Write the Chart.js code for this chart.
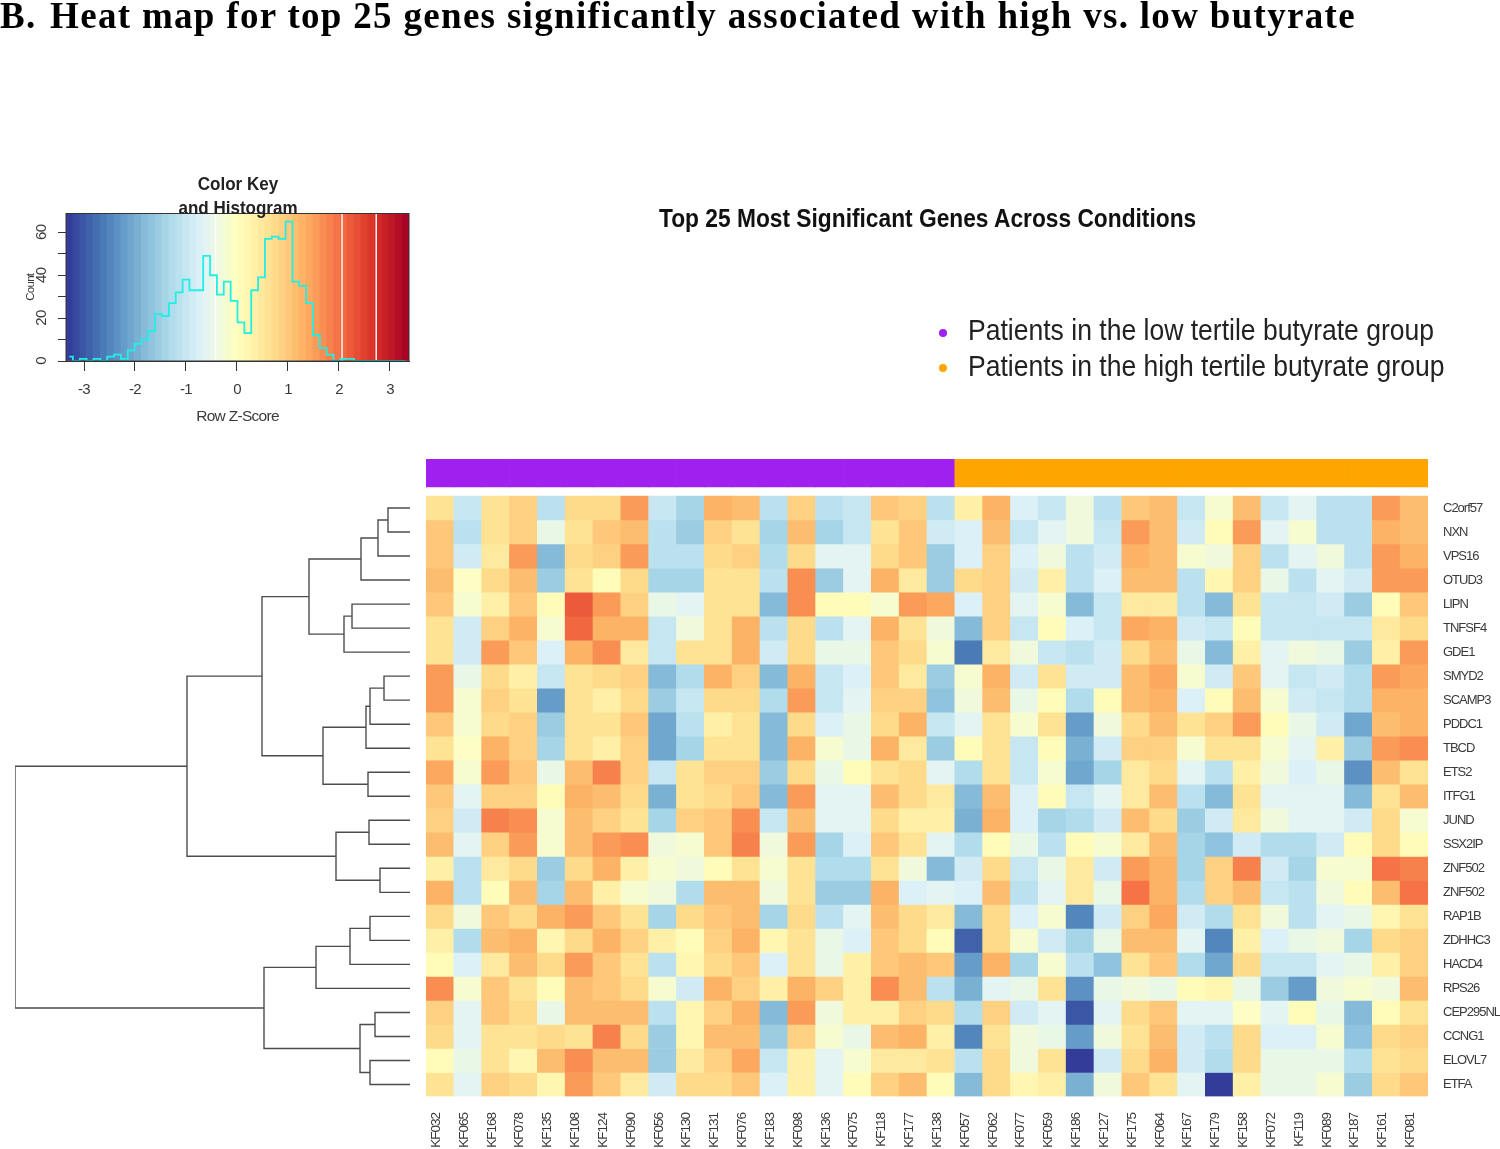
<!DOCTYPE html>
<html>
<head>
<meta charset="utf-8">
<title>Heat map for top 25 genes</title>
<script src="https://cdn.jsdelivr.net/npm/chart.js@4"></script>
<style>
  html, body { margin: 0; padding: 0; background: #fff; overflow: hidden; }
  body { width: 1500px; height: 1149px; position: relative; }
  canvas { position: absolute; filter: blur(0.45px); }
  .txt { position: absolute; white-space: pre; color: #111; filter: blur(0.35px); }
  #headline { left: 0; top: -6px; font: bold 37px "Liberation Serif", serif; letter-spacing: 1.31px; color: #000; }
  #heatTitle { left: 659px; top: 204px; font: bold 25px "Liberation Sans", sans-serif; transform: scaleX(0.91); transform-origin: left; }
  #keyTitle { left: 138px; width: 200px; top: 172px; text-align: center; font: bold 18.5px/24px "Liberation Sans", sans-serif; color: #222; transform: scaleX(0.92); }
  .legendText { left: 968px; font: 29px "Liberation Sans", sans-serif; color: #222; transform: scaleX(0.915); transform-origin: left; }
  .dot { position: absolute; left: 939px; width: 8px; height: 8px; border-radius: 50%; filter: blur(0.5px); }
</style>
</head>
<body>
<div class="txt" id="headline"><span style="word-spacing:3px">B. </span>Heat map for top 25 genes significantly associated with high vs. low butyrate</div>
<div class="txt" id="heatTitle">Top 25 Most Significant Genes Across Conditions</div>
<canvas id="keyChart" width="430" height="265" style="left:0;top:170px"></canvas>
<div class="txt" id="keyTitle">Color Key
and Histogram</div>
<div class="dot" style="top:329px;background:#a020f0"></div>
<div class="txt legendText" style="top:314px">Patients in the low tertile butyrate group</div>
<div class="dot" style="top:364px;background:#ffa500"></div>
<div class="txt legendText" style="top:350px">Patients in the high tertile butyrate group</div>
<canvas id="dendroChart" width="425" height="601" style="left:0;top:496px"></canvas>
<canvas id="heatChart" width="1084" height="699" style="left:416px;top:450px"></canvas>

<script>
const geneNames = ["C2orf57", "NXN", "VPS16", "OTUD3", "LIPN", "TNFSF4", "GDE1", "SMYD2", "SCAMP3", "PDDC1", "TBCD", "ETS2", "ITFG1", "JUND", "SSX2IP", "ZNF502", "ZNF502", "RAP1B", "ZDHHC3", "HACD4", "RPS26", "CEP295NL", "CCNG1", "ELOVL7", "ETFA"];
const sampleNames = ["KF032", "KF065", "KF168", "KF078", "KF135", "KF108", "KF124", "KF090", "KF056", "KF130", "KF131", "KF076", "KF183", "KF098", "KF136", "KF075", "KF118", "KF177", "KF138", "KF057", "KF062", "KF077", "KF059", "KF186", "KF127", "KF175", "KF064", "KF167", "KF179", "KF158", "KF072", "KF119", "KF089", "KF187", "KF161", "KF081"];
const lowGroupSize = 19;

// row z-scores, one line per gene
const zScores = [
  [0.55,-1.05,0.65,0.95,-1.15,0.75,0.75,1.5,-1.0,-1.4,1.35,1.15, -1.15,0.95,-1.15,-1.0,1.05,0.9,-1.15,0.3,1.3,-0.7,-0.95,-0.3, -1.15,1.0,1.1,-1.05,-0.25,1.2,-1.0,-0.55,-1.1,-1.1,1.5,1.15],
  [1.05,-1.2,0.65,0.95,-0.45,0.65,1.05,1.2,-1.15,-1.55,0.95,0.6, -1.4,1.2,-1.4,-1.0,0.65,1.0,-0.85,-0.7,1.2,-0.95,-0.55,-0.3, -1.0,1.55,1.1,-0.9,0.05,1.55,-0.6,-0.2,-1.2,-1.2,1.35,1.1],
  [1.05,-0.85,0.5,1.55,-1.85,0.75,0.95,1.55,-1.15,-1.15,0.75,0.95, -1.25,0.75,-0.55,-0.55,0.7,1.05,-1.55,-0.7,0.95,-0.7,-0.3,-1.15, -0.9,1.35,1.1,-0.15,-0.3,0.95,-1.15,-0.6,-0.3,-1.15,1.55,1.3],
  [1.2,-0.05,0.75,1.1,-1.6,0.6,0.05,0.75,-1.4,-1.4,0.65,0.65, -1.15,1.7,-1.55,-0.55,1.35,0.5,-1.55,0.75,0.95,-0.85,0.3,-1.1, -0.75,1.1,1.1,-1.15,0.15,0.95,-0.45,-1.15,-0.6,-0.85,1.55,1.5],
  [1.05,-0.2,0.4,1.0,0.1,2.2,1.55,0.95,-0.4,-0.6,0.65,0.65, -1.75,1.7,0.05,0.05,-0.25,1.55,1.4,-0.7,0.95,-0.55,-0.2,-1.75, -1.0,0.5,0.5,-1.15,-1.85,0.55,-1.0,-1.0,-0.8,-1.55,0.1,1.0],
  [0.65,-0.8,0.95,1.3,-0.2,2.05,1.35,1.35,-1.0,-0.35,0.65,1.35, -1.15,0.8,-1.15,-0.6,1.25,0.65,-0.3,-1.85,0.95,-1.0,0.05,-0.75, -1.0,1.4,1.35,-0.9,-1.0,0.05,-1.0,-0.95,-0.95,-1.05,0.45,0.75],
  [0.65,-0.9,1.5,1.05,-0.75,1.3,1.65,0.5,-1.0,0.55,0.65,1.35, -0.85,0.75,-0.4,-0.4,1.05,0.75,-0.15,-2.6,0.5,-0.3,-0.95,-1.15, -0.9,0.7,1.2,-0.4,-1.85,0.3,-0.6,-0.35,-0.4,-1.55,0.4,1.5],
  [1.5,-0.45,0.7,0.4,-1.0,0.55,0.7,0.95,-1.75,-1.3,1.25,0.9, -1.75,1.25,-1.05,-0.75,1.05,0.45,-1.55,-0.15,1.35,-0.85,0.55,-0.9, -0.8,1.2,1.4,-0.2,-0.8,1.0,-0.6,-1.05,-0.8,-1.3,1.55,1.45],
  [1.5,-0.2,0.95,0.55,-2.25,0.55,0.4,0.75,-1.55,-1.0,0.75,0.75, -1.3,1.5,-1.0,-0.6,0.9,0.9,-1.7,-0.3,1.15,-0.45,0.05,-1.3, 0.05,1.15,1.3,-0.7,0.05,1.1,-0.2,-0.8,-1.05,-1.3,1.3,1.3],
  [1.05,-0.2,0.75,0.9,-1.55,0.55,0.6,1.05,-2.05,-1.2,0.35,0.55, -1.75,0.75,-0.75,-0.45,0.7,1.3,-1.0,-0.6,0.65,-0.15,0.6,-2.2, -0.3,0.8,1.15,0.65,0.95,1.6,0.05,-0.4,-0.9,-2.05,1.1,1.3],
  [0.55,-0.05,1.3,0.95,-1.4,0.65,0.35,0.95,-2.05,-1.4,0.6,0.6, -1.75,1.3,-0.15,-0.4,1.25,0.5,-1.55,0.05,0.65,-1.0,0.05,-1.9, -0.85,0.95,0.95,-0.15,0.6,0.6,-0.15,-0.6,0.35,-1.55,1.55,1.75],
  [1.4,-0.2,1.5,1.0,-0.45,1.15,1.85,0.9,-1.0,0.55,0.9,0.9, -1.55,0.7,-0.4,0.05,0.6,0.7,-0.6,-1.25,0.65,-1.0,-0.2,-2.05, -1.4,0.45,0.8,-0.65,-1.15,0.35,-0.35,-0.75,-0.45,-2.35,1.1,0.65],
  [1.05,-0.55,0.95,0.95,0.05,1.3,1.15,0.8,-1.9,0.55,0.7,1.0, -1.75,1.5,-0.6,-0.6,1.1,0.8,0.5,-1.85,1.1,-0.7,0.1,-1.0, -0.55,0.45,1.15,-1.2,-1.75,0.65,-0.6,-0.6,-0.6,-1.75,0.6,1.1],
  [0.95,-0.9,1.8,1.65,-0.2,1.15,0.95,0.55,-1.4,0.85,1.0,1.65, -1.0,1.2,-0.6,-0.6,0.75,0.4,0.4,-2.0,1.35,-0.7,-1.35,-1.25, -0.85,1.1,0.8,-1.55,-0.85,0.45,-0.3,-0.6,-0.6,-0.85,0.75,-0.15],
  [1.2,-0.55,0.95,1.5,-0.2,1.2,1.5,1.65,-0.3,-0.2,1.05,1.85, -0.35,1.6,-1.35,-0.75,1.05,0.65,-0.6,-1.25,0.05,-0.4,-1.2,0.05, -0.15,0.5,1.1,-1.4,-1.7,-0.85,-1.25,-1.25,-0.85,0.05,0.7,0.1],
  [0.35,-1.15,0.45,0.7,-1.55,0.8,1.3,0.4,-0.2,-0.3,0.05,0.65, -0.2,0.65,-1.25,-1.25,0.6,-0.3,-1.85,-0.9,0.8,-1.0,-0.4,0.45, -0.85,1.55,1.35,-1.4,0.85,1.8,-0.85,-1.35,-0.15,-0.15,1.95,1.85],
  [1.25,-1.15,0.05,1.1,-1.4,1.15,0.35,-0.2,-0.3,-1.3,1.1,1.2, -0.35,0.65,-1.5,-1.55,1.3,-0.7,-0.6,-0.75,1.1,-1.2,-0.6,0.45, -0.4,1.95,1.3,-1.3,0.85,1.2,-1.0,-1.15,-0.3,0.05,1.15,1.95],
  [0.8,-0.35,1.0,0.8,1.3,1.5,1.05,0.55,-1.35,0.75,1.05,1.2, -1.4,0.8,-1.15,-0.6,1.15,0.8,0.5,-1.85,0.75,-0.75,-0.25,-2.45, -0.85,0.85,1.4,-0.9,-1.25,0.55,-0.35,-1.15,-0.65,-0.4,0.15,0.65],
  [0.3,-1.3,1.1,1.3,0.15,0.75,1.3,0.95,0.35,0.05,0.95,1.3, 0.15,0.65,-0.4,-0.7,1.0,0.75,0.05,-2.85,0.75,-0.2,-0.85,-1.45, -0.4,1.1,1.1,-0.55,-2.45,0.3,-0.75,-0.4,-0.3,-1.4,0.7,0.95],
  [0.05,-0.7,0.5,1.2,0.75,1.6,1.05,0.6,-1.2,0.25,0.7,1.05, -0.7,0.65,-0.45,0.4,1.0,1.2,1.0,-2.2,1.35,-1.35,-0.15,-1.15, -1.7,0.65,1.0,-1.25,-2.1,0.8,-1.0,-1.0,-0.55,-0.4,0.3,0.95],
  [1.7,-0.2,1.05,0.55,0.05,1.2,1.05,0.7,-0.2,-0.85,1.3,0.9, 0.4,1.25,0.85,0.3,1.7,1.1,-1.15,-2.0,-0.6,-0.45,0.6,-2.4, -0.4,-0.3,-0.4,0.1,0.15,-0.4,-1.55,-2.2,-0.3,-0.2,-0.35,1.1],
  [0.95,-0.55,1.05,0.75,-0.4,1.2,1.2,1.1,-1.2,0.15,0.95,1.35, -1.8,1.6,-0.35,0.4,0.4,0.95,0.7,-1.25,0.85,-0.85,-0.55,-3.0, -0.55,0.8,1.0,-0.55,-0.55,0.0,-0.6,0.1,-0.45,-1.85,0.1,0.55],
  [0.7,-0.55,0.65,0.55,0.75,0.65,1.8,0.7,-1.55,0.15,1.1,1.1, -1.6,0.85,-0.2,-0.4,1.2,1.35,0.4,-2.45,0.6,-0.35,-0.45,-2.15, -0.35,0.55,1.2,-0.85,-1.15,0.7,-0.75,-0.75,-0.2,-1.65,0.8,0.95],
  [0.05,-0.4,0.65,0.2,1.2,1.7,1.1,1.1,-1.55,0.5,0.9,1.4, -1.0,0.4,-0.6,-0.25,0.5,0.5,0.6,-1.1,0.7,-0.35,0.65,-3.35, -0.8,0.8,1.25,-0.8,-1.3,0.7,-0.4,-0.4,-0.4,-1.25,0.6,0.75],
  [0.6,-0.55,0.95,0.75,0.15,1.6,1.05,0.5,-0.85,0.75,0.75,1.05, -0.7,0.3,-0.55,0.1,0.85,1.1,0.05,-1.85,0.8,0.2,0.35,-1.9, -0.3,1.05,0.65,-0.55,-3.35,0.4,-0.4,-0.4,-0.25,-1.6,0.75,1.05],
];

// histogram counts of the colour key, one per colour band
const histCounts = [2,0,1,0,1,0,2,3,1,5, 8,10,14,22,21,27,32,38,33,33, 49,40,31,37,28,18,13,33,39,57, 58,57,65,37,35,27,12,6,3,0, 1,1,0,0,0,0,0,0,0,0];
const keyBreaks = [-0.42, 2.06, 2.73];
const keyTicksX = [-3, -2, -1, 0, 1, 2, 3];
const keyTicksY = [0, 10, 20, 30, 40, 50, 60];
const keyMin = -3.353;
const keyMax = 3.373;
const keyTop = 68.8;

// row dendrogram, hclust style: negative = leaf, positive = earlier merge
const mergeLeft = [-1, 1, 2, -5, 4, 3, -8, 7, 8, -12, 9, 6, -14, -16, 13, 12, -18, 17, 18, -22, -24, 20, 19, 16];
const mergeRight = [-2, -3, -4, -6, -7, 5, -9, -10, -11, -13, 10, 11, -15, -17, 14, 15, -19, -20, -21, -23, -25, 21, 22, 23];
const mergeHeight = [2.2, 3.2, 4.9, 5.8, 6.6, 10.1, 2.6, 4.0, 4.4, 4.2, 8.7, 14.8, 4.1, 3.0, 7.4, 22.3, 4.0, 6.0, 9.4, 3.5, 4.0, 5.0, 14.6, 39.5];

const palette = ["#313695", "#4575b4", "#74add1", "#abd9e9", "#e0f3f8", "#ffffbf", "#fee090", "#fdae61", "#f46d43", "#d73027", "#a50026"];
const bandCount = histCounts.length;
const sansFont = "'Liberation Sans', sans-serif";
const labelColor = "#3a3a3a";

const hexToRgb = (hex) => [1, 3, 5].map((i) => parseInt(hex.slice(i, i + 2), 16));

// maps a z-score to the colour of its band in the key
const zColor = (z) => {
  const band = Math.min(bandCount - 1, Math.max(0, Math.floor(((z - keyMin) / (keyMax - keyMin)) * bandCount)));
  const pos = ((band + 0.5) / bandCount) * (palette.length - 1);
  const low = Math.floor(pos);
  const high = Math.min(palette.length - 1, low + 1);
  const a = hexToRgb(palette[low]);
  const b = hexToRgb(palette[high]);
  const mix = a.map((v, i) => Math.round(v + (b[i] - v) * (pos - low)));
  return `rgb(${mix[0]}, ${mix[1]}, ${mix[2]})`;
};

const bandCenter = (i) => keyMin + ((i + 0.5) * (keyMax - keyMin)) / bandCount;

// tighter tick text, the original labels are condensed
const tightText = (spacing) => ({
  id: "tightText",
  beforeUpdate(chart) { chart.ctx.letterSpacing = spacing; },
  beforeDraw(chart) { chart.ctx.letterSpacing = spacing; },
});

// keeps the plot area exactly where the layout padding puts it
const fixScale = (size) => (scale) => {
  if (scale.isHorizontal()) {
    scale.height = size;
  } else {
    scale.width = size;
  }
  scale.paddingTop = 0;
  scale.paddingBottom = 0;
  scale.paddingLeft = 0;
  scale.paddingRight = 0;
};

// Color key with histogram
const keyFrame = {
  id: "keyFrame",
  afterDatasetsDraw(chart) {
    const { ctx, chartArea } = chart;
    ctx.save();
    ctx.strokeStyle = "#333";
    ctx.lineWidth = 1;
    ctx.strokeRect(chartArea.left, chartArea.top, chartArea.width, chartArea.height);
    ctx.restore();
  },
};

const keyBreakPoints = [];
keyBreaks.forEach((x) => {
  keyBreakPoints.push({ x, y: 0 }, { x, y: keyTop }, { x: null, y: null });
});

new Chart(document.getElementById("keyChart"), {
  data: {
    datasets: [
      {
        type: "line",
        label: "Count",
        data: histCounts.map((y, i) => ({ x: bandCenter(i), y })),
        stepped: "middle",
        borderColor: "#22eee6",
        borderWidth: 1.8,
        pointRadius: 0,
        order: 0,
      },
      {
        type: "line",
        label: "gaps",
        data: keyBreakPoints,
        borderColor: "#fff",
        borderWidth: 1.4,
        pointRadius: 0,
        spanGaps: false,
        order: 1,
      },
      {
        type: "bar",
        label: "key",
        data: histCounts.map((_, i) => ({ x: bandCenter(i), y: keyTop })),
        backgroundColor: histCounts.map((_, i) => zColor(bandCenter(i))),
        barPercentage: 1,
        categoryPercentage: 1,
        order: 2,
      },
    ],
  },
  options: {
    responsive: false,
    animation: false,
    layout: { autoPadding: false, padding: { left: 24, right: 21, top: 43.5, bottom: 9 } },
    plugins: { legend: { display: false }, tooltip: { enabled: false } },
    scales: {
      x: {
        type: "linear",
        offset: false,
        min: keyMin,
        max: keyMax,
        afterBuildTicks: (scale) => { scale.ticks = keyTicksX.map((value) => ({ value })); },
        afterFit: fixScale(65),
        ticks: { color: labelColor, padding: 10, font: { family: sansFont, size: 15 } },
        grid: { offset: false, drawOnChartArea: false, tickLength: 10, color: "#333" },
        border: { color: "#333" },
        title: { display: true, text: "Row Z-Score", color: labelColor, padding: 0, font: { family: sansFont, size: 15.5 } },
      },
      y: {
        min: 0,
        max: keyTop,
        afterBuildTicks: (scale) => { scale.ticks = keyTicksY.map((value) => ({ value })); },
        afterFit: fixScale(42),
        ticks: {
          autoSkip: false,
          minRotation: 90,
          maxRotation: 90,
          crossAlign: "center",
          color: labelColor,
          padding: 8,
          font: { family: sansFont, size: 15 },
          callback: (v) => (v % 20 === 0 ? v : ""),
        },
        grid: { drawOnChartArea: false, tickLength: 8, color: "#333" },
        border: { color: "#333" },
        title: { display: true, text: "Count", color: labelColor, padding: 0, font: { family: sansFont, size: 11.5 } },
      },
    },
  },
  plugins: [keyFrame, tightText("-0.7px")],
});

// Builds dendrogram segments from the merge table
const buildDendrogram = () => {
  const points = [];
  const nodes = [];
  const place = (id) => (id < 0 ? { h: 0, y: -id - 0.5 } : nodes[id - 1]);
  mergeHeight.forEach((h, i) => {
    const a = place(mergeLeft[i]);
    const b = place(mergeRight[i]);
    points.push({ x: a.h, y: a.y }, { x: h, y: a.y }, { x: h, y: b.y }, { x: b.h, y: b.y }, { x: null, y: null });
    nodes.push({ h, y: (a.y + b.y) / 2 });
  });
  return points;
};

new Chart(document.getElementById("dendroChart"), {
  type: "scatter",
  data: {
    datasets: [
      {
        data: buildDendrogram(),
        showLine: true,
        spanGaps: false,
        borderColor: "rgba(45, 45, 45, 0.85)",
        borderWidth: 1.4,
        pointRadius: 0,
      },
    ],
  },
  options: {
    responsive: false,
    animation: false,
    layout: { autoPadding: false, padding: { left: 15, right: 15, top: 0, bottom: 0.5 } },
    plugins: { legend: { display: false }, tooltip: { enabled: false } },
    scales: {
      x: { display: false, reverse: true, min: 0, max: 39.5 },
      y: { display: false, reverse: true, min: 0, max: 25 },
    },
  },
});

// Heat map: one floating bar per cell, plus the group bar on top
const heatDatasets = geneNames.map((gene, row) => ({
  label: gene,
  data: sampleNames.map(() => [row, row + 1]),
  backgroundColor: zScores[row].map(zColor),
  barPercentage: 1,
  categoryPercentage: 1,
}));

heatDatasets.push({
  label: "group",
  data: sampleNames.map(() => [-1.54, -0.375]),
  backgroundColor: sampleNames.map((_, i) => (i < lowGroupSize ? "#a020f0" : "#ffa500")),
  barPercentage: 1,
  categoryPercentage: 1,
});

new Chart(document.getElementById("heatChart"), {
  type: "bar",
  data: { labels: sampleNames, datasets: heatDatasets },
  options: {
    responsive: false,
    animation: false,
    layout: { autoPadding: false, padding: { left: 10, right: 0, top: 9, bottom: 0 } },
    plugins: { legend: { display: false }, tooltip: { enabled: false } },
    scales: {
      x: {
        stacked: true,
        afterFit: fixScale(52.5),
        ticks: {
          autoSkip: false,
          minRotation: 90,
          maxRotation: 90,
          padding: 16.5,
          labelOffset: -3.7,
          color: labelColor,
          font: { family: sansFont, size: 13.5 },
        },
        grid: { display: false, drawTicks: false },
        border: { display: false },
      },
      y: {
        position: "right",
        reverse: true,
        min: -1.54,
        max: 25,
        afterBuildTicks: (scale) => { scale.ticks = geneNames.map((_, i) => ({ value: i + 0.5 })); },
        afterFit: fixScale(72),
        ticks: {
          autoSkip: false,
          padding: 15,
          color: labelColor,
          font: { family: sansFont, size: 13 },
          callback: (v) => geneNames[Math.floor(v)],
        },
        grid: { display: false, drawTicks: false },
        border: { display: false },
      },
    },
  },
  plugins: [tightText("-1px")],
});
</script>
</body>
</html>
